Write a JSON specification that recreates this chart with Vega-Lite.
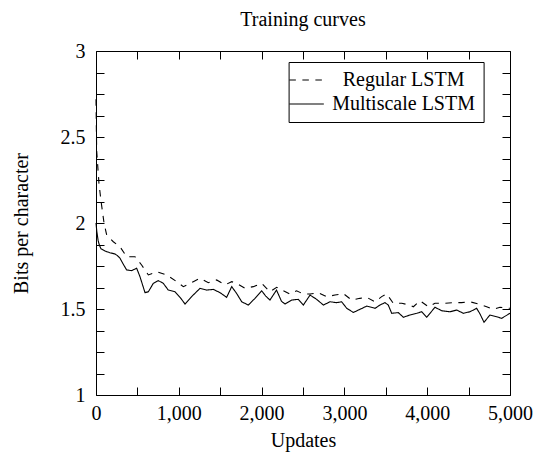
{
  "$schema": "https://vega.github.io/schema/vega-lite/v6.json",
  "width": 414,
  "height": 344,
  "autosize": {"type": "none"},
  "padding": {"left": 96, "top": 51, "right": 26, "bottom": 57},
  "title": {"text": "Training curves", "font": "Liberation Serif", "fontSize": 20, "fontWeight": "normal", "color": "black", "offset": 11, "anchor": "middle"},
  "config": {
    "view": {"stroke": null},
    "font": "Liberation Serif",
    "axis": {"grid": false, "domainColor": "black", "domainWidth": 1, "tickColor": "black", "tickWidth": 1, "labelColor": "black", "titleColor": "black", "labelFont": "Liberation Serif", "titleFont": "Liberation Serif", "labelFontSize": 20, "titleFontSize": 20, "titleFontWeight": "normal", "labelFlush": false, "labelOverlap": false, "labelBound": false}
  },
  "datasets": {
    "curves": [
      {"u": 0, "v": 2.72, "model": "Regular LSTM"},
      {"u": 8, "v": 2.42, "model": "Regular LSTM"},
      {"u": 36, "v": 2.23, "model": "Regular LSTM"},
      {"u": 60, "v": 2.13, "model": "Regular LSTM"},
      {"u": 97, "v": 2.0, "model": "Regular LSTM"},
      {"u": 129, "v": 1.93, "model": "Regular LSTM"},
      {"u": 209, "v": 1.891, "model": "Regular LSTM"},
      {"u": 290, "v": 1.862, "model": "Regular LSTM"},
      {"u": 370, "v": 1.804, "model": "Regular LSTM"},
      {"u": 471, "v": 1.804, "model": "Regular LSTM"},
      {"u": 551, "v": 1.756, "model": "Regular LSTM"},
      {"u": 632, "v": 1.698, "model": "Regular LSTM"},
      {"u": 733, "v": 1.717, "model": "Regular LSTM"},
      {"u": 854, "v": 1.698, "model": "Regular LSTM"},
      {"u": 974, "v": 1.659, "model": "Regular LSTM"},
      {"u": 1055, "v": 1.63, "model": "Regular LSTM"},
      {"u": 1175, "v": 1.659, "model": "Regular LSTM"},
      {"u": 1256, "v": 1.678, "model": "Regular LSTM"},
      {"u": 1357, "v": 1.653, "model": "Regular LSTM"},
      {"u": 1457, "v": 1.669, "model": "Regular LSTM"},
      {"u": 1558, "v": 1.64, "model": "Regular LSTM"},
      {"u": 1639, "v": 1.659, "model": "Regular LSTM"},
      {"u": 1699, "v": 1.649, "model": "Regular LSTM"},
      {"u": 1800, "v": 1.62, "model": "Regular LSTM"},
      {"u": 1900, "v": 1.63, "model": "Regular LSTM"},
      {"u": 2001, "v": 1.649, "model": "Regular LSTM"},
      {"u": 2101, "v": 1.6, "model": "Regular LSTM"},
      {"u": 2182, "v": 1.626, "model": "Regular LSTM"},
      {"u": 2262, "v": 1.606, "model": "Regular LSTM"},
      {"u": 2343, "v": 1.587, "model": "Regular LSTM"},
      {"u": 2423, "v": 1.606, "model": "Regular LSTM"},
      {"u": 2504, "v": 1.587, "model": "Regular LSTM"},
      {"u": 2585, "v": 1.587, "model": "Regular LSTM"},
      {"u": 2685, "v": 1.595, "model": "Regular LSTM"},
      {"u": 2786, "v": 1.572, "model": "Regular LSTM"},
      {"u": 2886, "v": 1.581, "model": "Regular LSTM"},
      {"u": 2987, "v": 1.59, "model": "Regular LSTM"},
      {"u": 3088, "v": 1.552, "model": "Regular LSTM"},
      {"u": 3188, "v": 1.562, "model": "Regular LSTM"},
      {"u": 3269, "v": 1.568, "model": "Regular LSTM"},
      {"u": 3370, "v": 1.542, "model": "Regular LSTM"},
      {"u": 3450, "v": 1.572, "model": "Regular LSTM"},
      {"u": 3511, "v": 1.587, "model": "Regular LSTM"},
      {"u": 3591, "v": 1.533, "model": "Regular LSTM"},
      {"u": 3692, "v": 1.533, "model": "Regular LSTM"},
      {"u": 3792, "v": 1.523, "model": "Regular LSTM"},
      {"u": 3833, "v": 1.513, "model": "Regular LSTM"},
      {"u": 3913, "v": 1.548, "model": "Regular LSTM"},
      {"u": 4014, "v": 1.513, "model": "Regular LSTM"},
      {"u": 4094, "v": 1.533, "model": "Regular LSTM"},
      {"u": 4215, "v": 1.533, "model": "Regular LSTM"},
      {"u": 4316, "v": 1.537, "model": "Regular LSTM"},
      {"u": 4416, "v": 1.537, "model": "Regular LSTM"},
      {"u": 4517, "v": 1.542, "model": "Regular LSTM"},
      {"u": 4617, "v": 1.529, "model": "Regular LSTM"},
      {"u": 4718, "v": 1.513, "model": "Regular LSTM"},
      {"u": 4799, "v": 1.498, "model": "Regular LSTM"},
      {"u": 4879, "v": 1.51, "model": "Regular LSTM"},
      {"u": 5000, "v": 1.504, "model": "Regular LSTM"},
      {"u": 0, "v": 2.0, "model": "Multiscale LSTM"},
      {"u": 10, "v": 1.95, "model": "Multiscale LSTM"},
      {"u": 25, "v": 1.9, "model": "Multiscale LSTM"},
      {"u": 40, "v": 1.872, "model": "Multiscale LSTM"},
      {"u": 60, "v": 1.85, "model": "Multiscale LSTM"},
      {"u": 88, "v": 1.843, "model": "Multiscale LSTM"},
      {"u": 120, "v": 1.835, "model": "Multiscale LSTM"},
      {"u": 169, "v": 1.827, "model": "Multiscale LSTM"},
      {"u": 229, "v": 1.82, "model": "Multiscale LSTM"},
      {"u": 260, "v": 1.81, "model": "Multiscale LSTM"},
      {"u": 290, "v": 1.795, "model": "Multiscale LSTM"},
      {"u": 330, "v": 1.76, "model": "Multiscale LSTM"},
      {"u": 370, "v": 1.727, "model": "Multiscale LSTM"},
      {"u": 431, "v": 1.723, "model": "Multiscale LSTM"},
      {"u": 491, "v": 1.737, "model": "Multiscale LSTM"},
      {"u": 531, "v": 1.688, "model": "Multiscale LSTM"},
      {"u": 592, "v": 1.595, "model": "Multiscale LSTM"},
      {"u": 632, "v": 1.6, "model": "Multiscale LSTM"},
      {"u": 692, "v": 1.649, "model": "Multiscale LSTM"},
      {"u": 753, "v": 1.665, "model": "Multiscale LSTM"},
      {"u": 813, "v": 1.649, "model": "Multiscale LSTM"},
      {"u": 873, "v": 1.61, "model": "Multiscale LSTM"},
      {"u": 954, "v": 1.6, "model": "Multiscale LSTM"},
      {"u": 1020, "v": 1.565, "model": "Multiscale LSTM"},
      {"u": 1075, "v": 1.529, "model": "Multiscale LSTM"},
      {"u": 1155, "v": 1.572, "model": "Multiscale LSTM"},
      {"u": 1256, "v": 1.62, "model": "Multiscale LSTM"},
      {"u": 1337, "v": 1.61, "model": "Multiscale LSTM"},
      {"u": 1417, "v": 1.614, "model": "Multiscale LSTM"},
      {"u": 1498, "v": 1.595, "model": "Multiscale LSTM"},
      {"u": 1578, "v": 1.568, "model": "Multiscale LSTM"},
      {"u": 1639, "v": 1.63, "model": "Multiscale LSTM"},
      {"u": 1699, "v": 1.59, "model": "Multiscale LSTM"},
      {"u": 1760, "v": 1.542, "model": "Multiscale LSTM"},
      {"u": 1840, "v": 1.523, "model": "Multiscale LSTM"},
      {"u": 1920, "v": 1.562, "model": "Multiscale LSTM"},
      {"u": 2001, "v": 1.606, "model": "Multiscale LSTM"},
      {"u": 2050, "v": 1.575, "model": "Multiscale LSTM"},
      {"u": 2101, "v": 1.552, "model": "Multiscale LSTM"},
      {"u": 2180, "v": 1.61, "model": "Multiscale LSTM"},
      {"u": 2240, "v": 1.545, "model": "Multiscale LSTM"},
      {"u": 2283, "v": 1.529, "model": "Multiscale LSTM"},
      {"u": 2363, "v": 1.552, "model": "Multiscale LSTM"},
      {"u": 2443, "v": 1.556, "model": "Multiscale LSTM"},
      {"u": 2504, "v": 1.523, "model": "Multiscale LSTM"},
      {"u": 2585, "v": 1.581, "model": "Multiscale LSTM"},
      {"u": 2665, "v": 1.556, "model": "Multiscale LSTM"},
      {"u": 2746, "v": 1.523, "model": "Multiscale LSTM"},
      {"u": 2826, "v": 1.542, "model": "Multiscale LSTM"},
      {"u": 2907, "v": 1.537, "model": "Multiscale LSTM"},
      {"u": 2967, "v": 1.542, "model": "Multiscale LSTM"},
      {"u": 3028, "v": 1.504, "model": "Multiscale LSTM"},
      {"u": 3108, "v": 1.48, "model": "Multiscale LSTM"},
      {"u": 3188, "v": 1.498, "model": "Multiscale LSTM"},
      {"u": 3269, "v": 1.517, "model": "Multiscale LSTM"},
      {"u": 3370, "v": 1.504, "model": "Multiscale LSTM"},
      {"u": 3430, "v": 1.523, "model": "Multiscale LSTM"},
      {"u": 3490, "v": 1.537, "model": "Multiscale LSTM"},
      {"u": 3530, "v": 1.523, "model": "Multiscale LSTM"},
      {"u": 3571, "v": 1.475, "model": "Multiscale LSTM"},
      {"u": 3651, "v": 1.479, "model": "Multiscale LSTM"},
      {"u": 3712, "v": 1.452, "model": "Multiscale LSTM"},
      {"u": 3792, "v": 1.465, "model": "Multiscale LSTM"},
      {"u": 3873, "v": 1.475, "model": "Multiscale LSTM"},
      {"u": 3933, "v": 1.484, "model": "Multiscale LSTM"},
      {"u": 3994, "v": 1.452, "model": "Multiscale LSTM"},
      {"u": 4094, "v": 1.51, "model": "Multiscale LSTM"},
      {"u": 4175, "v": 1.49, "model": "Multiscale LSTM"},
      {"u": 4275, "v": 1.484, "model": "Multiscale LSTM"},
      {"u": 4356, "v": 1.494, "model": "Multiscale LSTM"},
      {"u": 4437, "v": 1.475, "model": "Multiscale LSTM"},
      {"u": 4517, "v": 1.484, "model": "Multiscale LSTM"},
      {"u": 4597, "v": 1.504, "model": "Multiscale LSTM"},
      {"u": 4638, "v": 1.471, "model": "Multiscale LSTM"},
      {"u": 4686, "v": 1.423, "model": "Multiscale LSTM"},
      {"u": 4758, "v": 1.465, "model": "Multiscale LSTM"},
      {"u": 4839, "v": 1.455, "model": "Multiscale LSTM"},
      {"u": 4899, "v": 1.446, "model": "Multiscale LSTM"},
      {"u": 5000, "v": 1.475, "model": "Multiscale LSTM"}
    ]
  },
  "data": {"name": "curves"},
  "layer": [
    {
      "mark": {"type": "line", "color": "black", "strokeWidth": 1.1},
      "encoding": {
        "x": {"field": "u", "type": "quantitative", "scale": {"domain": [0, 5000], "nice": false, "zero": false},
              "axis": {"orient": "bottom", "values": [0, 500, 1000, 1500, 2000, 2500, 3000, 3500, 4000, 4500, 5000], "labelExpr": "datum.value % 1000 === 0 ? format(datum.value, ',') : ''", "tickSize": -8, "title": "Updates", "labelPadding": 16, "labelBaseline": "top", "titlePadding": 7,
                       "encoding": {"ticks": {"update": {"y2": {"signal": "datum.value % 1000 === 0 ? -8 : -5"}}}}}},
        "y": {"field": "v", "type": "quantitative", "scale": {"domain": [1, 3], "nice": false, "zero": false},
              "axis": {"orient": "left", "values": [1, 1.125, 1.25, 1.375, 1.5, 1.625, 1.75, 1.875, 2, 2.125, 2.25, 2.375, 2.5, 2.625, 2.75, 2.875, 3], "labelExpr": "datum.value % 0.5 === 0 ? format(datum.value, '~g') : ''", "tickSize": -8, "title": "Bits per character", "labelPadding": 19, "titlePadding": 29,
                       "encoding": {"ticks": {"update": {"x2": {"signal": "datum.value % 0.5 === 0 ? 8 : 5"}}}}}},
        "strokeDash": {"field": "model", "type": "nominal",
              "scale": {"domain": ["Regular LSTM", "Multiscale LSTM"], "range": [[6.5, 6.5], [1, 0]]},
              "legend": {"title": null, "orient": "none", "legendX": 192.6, "legendY": 11, "padding": 8, "strokeColor": "black", "fillColor": "white", "cornerRadius": 0,
                         "symbolType": "M-2,0H2", "symbolSize": 297, "symbolStrokeColor": "black", "symbolStrokeWidth": 1.1,
                         "labelFont": "Liberation Serif", "labelFontSize": 20, "labelColor": "black", "labelAlign": "center", "labelOffset": 87, "labelLimit": 300, "rowPadding": 4}}
      }
    },
    {
      "mark": {"type": "line", "opacity": 0},
      "encoding": {
        "x": {"field": "u", "type": "quantitative", "scale": {"domain": [0, 5000], "nice": false, "zero": false},
              "axis": {"orient": "top", "values": [0, 500, 1000, 1500, 2000, 2500, 3000, 3500, 4000, 4500, 5000], "labelExpr": "''", "labelFontSize": 1, "labelPadding": -20, "tickSize": -8, "title": null,
                       "encoding": {"ticks": {"update": {"y2": {"signal": "datum.value % 1000 === 0 ? 8 : 5"}}}}}},
        "y": {"field": "v", "type": "quantitative", "scale": {"domain": [1, 3], "nice": false, "zero": false},
              "axis": {"orient": "right", "values": [1, 1.125, 1.25, 1.375, 1.5, 1.625, 1.75, 1.875, 2, 2.125, 2.25, 2.375, 2.5, 2.625, 2.75, 2.875, 3], "labelExpr": "''", "labelFontSize": 1, "labelPadding": -20, "tickSize": -8, "title": null,
                       "encoding": {"ticks": {"update": {"x2": {"signal": "datum.value % 0.5 === 0 ? -8 : -5"}}}}}}
      }
    }
  ],
  "resolve": {"scale": {"x": "independent", "y": "independent"}}
}
